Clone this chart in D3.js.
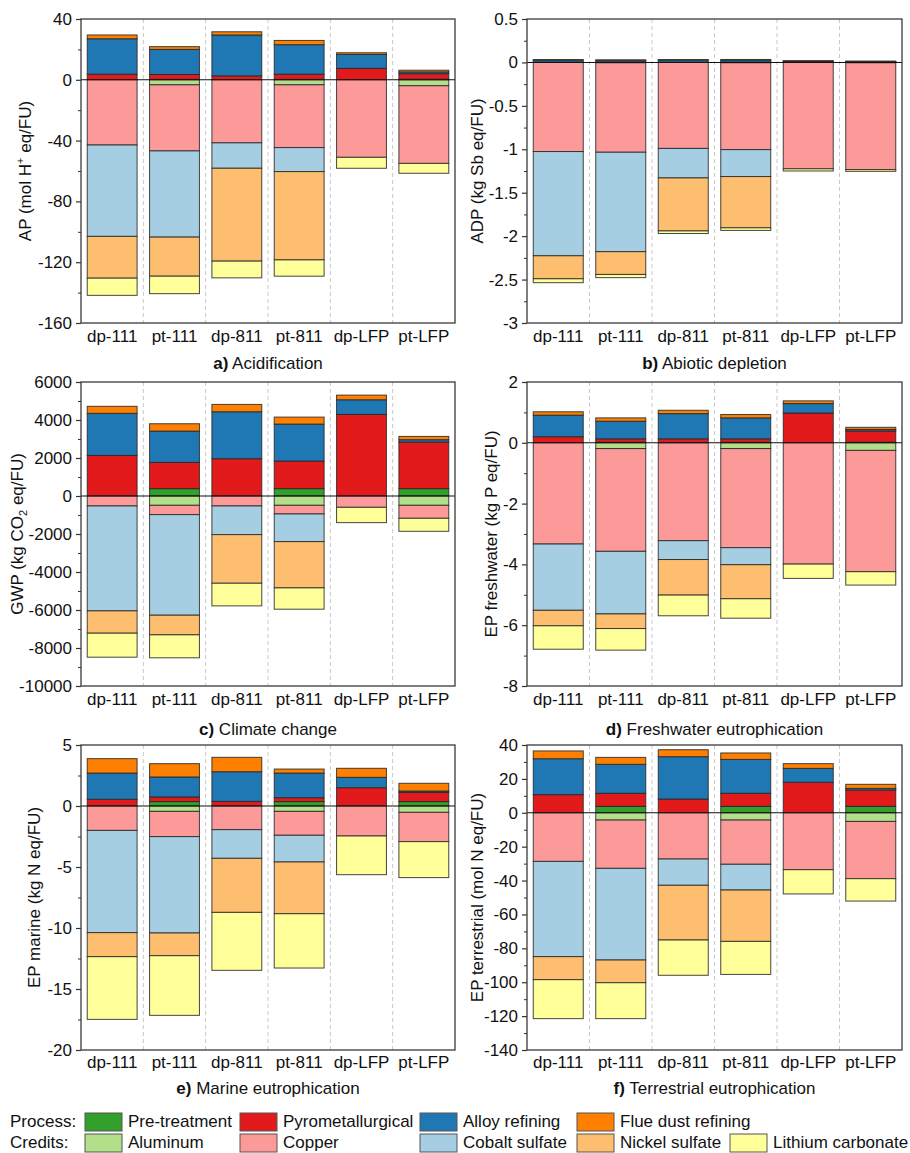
<!DOCTYPE html>
<html>
<head>
<meta charset="utf-8">
<script src="https://cdn.jsdelivr.net/npm/d3@7"></script>
<style>
  html, body { margin: 0; padding: 0; background: #fff; }
  svg { display: block; font-family: "Liberation Sans", Arial, sans-serif; }
</style>
</head>
<body>
<svg id="chart" width="910" height="1153"></svg>
<script>
// Recycling routes and stacked contributions
const categories = ["dp-111", "pt-111", "dp-811", "pt-811", "dp-LFP", "pt-LFP"];
const processNames = ["Pre-treatment", "Pyrometallurgical", "Alloy refining", "Flue dust refining"];
const creditNames = ["Aluminum", "Copper", "Cobalt sulfate", "Nickel sulfate", "Lithium carbonate"];
const processColors = ["#33a02c", "#e31a1c", "#1f78b4", "#ff7f00"];
const creditColors = ["#b2df8a", "#fb9a99", "#a6cee3", "#fdbf6f", "#ffff99"];

// a) Acidification (mol H+ eq/FU) — rows follow processNames / creditNames
const apProcess = [
  [0, 0.3, 0, 0.3, 0, 0.4],
  [3.7, 3.2, 2.6, 3.4, 7.5, 3.6],
  [23.3, 16.5, 26.9, 19.4, 9.2, 1.2],
  [2.5, 1.8, 2.1, 2.8, 1.1, 1.1]
];
const apCredit = [
  [0, -3.3, 0, -3.3, 0, -3.9],
  [-42.9, -43.5, -41.5, -41.3, -51.0, -51.1],
  [-60.1, -56.7, -16.7, -15.8, 0, 0],
  [-27.5, -25.7, -61.1, -58.1, 0, 0],
  [-11.3, -11.5, -11.0, -10.7, -7.2, -6.5]
];

// b) Abiotic depletion (kg Sb eq/FU)
const adpProcess = [
  [0, 0.002, 0, 0.002, 0, 0.002],
  [0.004, 0.004, 0.003, 0.003, 0.012, 0.008],
  [0.024, 0.018, 0.025, 0.024, 0.004, 0.002],
  [0.005, 0.006, 0.005, 0.005, 0.004, 0.003]
];
const adpCredit = [
  [0, -0.004, 0, -0.004, 0, -0.004],
  [-1.026, -1.03, -0.99, -1.0, -1.225, -1.23],
  [-1.2, -1.145, -0.34, -0.31, 0, 0],
  [-0.265, -0.262, -0.61, -0.59, 0, 0],
  [-0.045, -0.037, -0.03, -0.03, -0.025, -0.02]
];

// c) Climate change (kg CO2 eq/FU)
const gwpProcess = [
  [0, 386, 0, 386, 0, 386],
  [2140, 1384, 1963, 1454, 4294, 2453],
  [2210, 1647, 2471, 1945, 771, 123],
  [370, 386, 386, 368, 245, 175]
];
const gwpCredit = [
  [0, -490, 0, -490, 0, -490],
  [-526, -491, -526, -456, -596, -684],
  [-5520, -5293, -1507, -1455, 0, 0],
  [-1175, -1034, -2559, -2436, 0, 0],
  [-1262, -1209, -1191, -1121, -806, -684]
];

// d) Freshwater eutrophication (kg P eq/FU)
const fwProcess = [
  [0, 0.02, 0, 0.02, 0, 0.02],
  [0.2, 0.11, 0.13, 0.11, 0.98, 0.37],
  [0.71, 0.58, 0.83, 0.69, 0.31, 0.05],
  [0.11, 0.11, 0.11, 0.11, 0.09, 0.07]
];
const fwCredit = [
  [0, -0.19, 0, -0.19, 0, -0.25],
  [-3.33, -3.38, -3.22, -3.26, -3.99, -3.99],
  [-2.18, -2.06, -0.62, -0.56, 0, 0],
  [-0.51, -0.48, -1.17, -1.12, 0, 0],
  [-0.77, -0.71, -0.68, -0.64, -0.47, -0.44]
];

// e) Marine eutrophication (kg N eq/FU)
const marProcess = [
  [0, 0.36, 0, 0.36, 0, 0.36],
  [0.55, 0.38, 0.38, 0.32, 1.5, 0.76],
  [2.15, 1.64, 2.43, 2.02, 0.85, 0.11],
  [1.18, 1.09, 1.18, 0.33, 0.74, 0.63]
];
const marCredit = [
  [0, -0.44, 0, -0.44, 0, -0.52],
  [-2.0, -2.07, -1.94, -1.96, -2.46, -2.4],
  [-8.38, -7.9, -2.35, -2.19, 0, 0],
  [-1.97, -1.86, -4.43, -4.24, 0, 0],
  [-5.14, -4.89, -4.75, -4.45, -3.17, -2.95]
];

// f) Terrestrial eutrophication (mol N eq/FU)
const terProcess = [
  [0, 3.8, 0, 3.8, 0, 3.8],
  [10.7, 7.7, 8.1, 7.7, 18.0, 9.6],
  [21.2, 17.1, 25.0, 20.0, 8.2, 1.0],
  [4.6, 4.1, 4.1, 3.8, 2.8, 2.4]
];
const terCredit = [
  [0, -4.3, 0, -4.3, 0, -5.1],
  [-28.7, -28.5, -27.3, -26.1, -33.6, -33.8],
  [-56.2, -54.1, -15.5, -15.2, 0, 0],
  [-13.6, -13.4, -32.3, -30.3, 0, 0],
  [-23.0, -21.2, -20.8, -19.5, -14.3, -13.2]
];

// Panel layout
const cols = [{ x0: 81, x1: 455 }, { x0: 527, x1: 902 }];
const rows = [
  { y0: 19, y1: 323, cat: 342, title: 369 },
  { y0: 382, y1: 686, cat: 705, title: 735 },
  { y0: 745, y1: 1050, cat: 1068, title: 1094 }
];

const panels = [
  { col: 0, row: 0, letter: "a)", name: "Acidification", domain: [-160, 40], step: 40,
    yTitle: [["AP (mol H", ""], ["+", "sup"], [" eq/FU)", ""]], titleX: 31,
    process: apProcess, credit: apCredit },
  { col: 1, row: 0, letter: "b)", name: "Abiotic depletion", domain: [-3, 0.5], step: 0.5,
    yTitle: [["ADP (kg Sb eq/FU)", ""]], titleX: 483,
    process: adpProcess, credit: adpCredit },
  { col: 0, row: 1, letter: "c)", name: "Climate change", domain: [-10000, 6000], step: 2000,
    yTitle: [["GWP (kg CO", ""], ["2", "sub"], [" eq/FU)", ""]], titleX: 23,
    process: gwpProcess, credit: gwpCredit },
  { col: 1, row: 1, letter: "d)", name: "Freshwater eutrophication", domain: [-8, 2], step: 2,
    yTitle: [["EP freshwater (kg P eq/FU)", ""]], titleX: 497,
    process: fwProcess, credit: fwCredit },
  { col: 0, row: 2, letter: "e)", name: "Marine eutrophication", domain: [-20, 5], step: 5,
    yTitle: [["EP marine (kg N eq/FU)", ""]], titleX: 40,
    process: marProcess, credit: marCredit },
  { col: 1, row: 2, letter: "f)", name: "Terrestrial eutrophication", domain: [-140, 40], step: 20,
    yTitle: [["EP terrestrial (mol N eq/FU)", ""]], titleX: 483,
    process: terProcess, credit: terCredit }
];

const svg = d3.select("#chart");
const FONT = 17;
const seriesKeys = processNames.concat(creditNames);
const seriesColors = processColors.concat(creditColors);
const color = d3.scaleOrdinal(seriesKeys, seriesColors);

function drawPanel(p) {
  const c = cols[p.col], r = rows[p.row];
  const g = svg.append("g");

  const x = d3.scaleBand().domain(categories).range([c.x0, c.x1]).paddingInner(0.2).paddingOuter(0.1);
  const y = d3.scaleLinear().domain(p.domain).range([r.y1, r.y0]);

  // Build one row per category with all series values
  const table = categories.map((cat, i) => {
    const row = { category: cat };
    processNames.forEach((n, k) => row[n] = p.process[k][i]);
    creditNames.forEach((n, k) => row[n] = p.credit[k][i]);
    return row;
  });
  const stacked = d3.stack().keys(seriesKeys).offset(d3.stackOffsetDiverging)(table);

  // Dashed separators between categories
  const band = (c.x1 - c.x0) / categories.length;
  g.selectAll("line.sep").data(d3.range(1, categories.length)).join("line")
    .attr("x1", i => c.x0 + i * band).attr("x2", i => c.x0 + i * band)
    .attr("y1", r.y0).attr("y2", r.y1)
    .attr("stroke", "#c8c8c8").attr("stroke-width", 1).attr("stroke-dasharray", "4,3");

  // Stacked bars
  g.selectAll("g.series").data(stacked).join("g")
    .attr("fill", s => color(s.key))
    .selectAll("rect")
    .data(s => s.filter(d => d[0] !== d[1]))
    .join("rect")
    .attr("x", d => x(d.data.category))
    .attr("width", x.bandwidth())
    .attr("y", d => y(Math.max(d[0], d[1])))
    .attr("height", d => Math.abs(y(d[0]) - y(d[1])))
    .attr("stroke", "#262626").attr("stroke-width", 1).attr("stroke-opacity", 0.85);

  // Zero line
  g.append("line")
    .attr("x1", c.x0).attr("x2", c.x1).attr("y1", y(0)).attr("y2", y(0))
    .attr("stroke", "#111").attr("stroke-width", 1.1);

  // Frame
  g.append("rect")
    .attr("x", c.x0).attr("y", r.y0).attr("width", c.x1 - c.x0).attr("height", r.y1 - r.y0)
    .attr("fill", "none").attr("stroke", "#3a3a3a").attr("stroke-width", 1.3);

  // Y axis with major and minor ticks
  const majors = d3.range(p.domain[0], p.domain[1] + p.step / 2, p.step).map(v => +v.toFixed(6));
  const minors = d3.range(p.domain[0] + p.step / 2, p.domain[1], p.step).map(v => +v.toFixed(6));
  const yAxis = d3.axisLeft(y).tickValues(majors).tickSize(5).tickPadding(4)
    .tickFormat(v => String(v));
  const ax = g.append("g").attr("transform", `translate(${c.x0},0)`).call(yAxis);
  ax.select(".domain").remove();
  ax.selectAll(".tick line").attr("stroke", "#333").attr("stroke-width", 1.2);
  ax.selectAll(".tick text").attr("font-size", FONT).attr("fill", "#111")
    .attr("font-family", "Liberation Sans, Arial, sans-serif");
  const minorAxis = d3.axisLeft(y).tickValues(minors).tickSize(3).tickFormat("");
  const mx = g.append("g").attr("transform", `translate(${c.x0},0)`).call(minorAxis);
  mx.select(".domain").remove();
  mx.selectAll(".tick line").attr("stroke", "#333").attr("stroke-width", 1);

  // Category labels
  g.selectAll("text.cat").data(categories).join("text")
    .attr("x", d => x(d) + x.bandwidth() / 2).attr("y", r.cat)
    .attr("text-anchor", "middle").attr("font-size", FONT).attr("fill", "#111")
    .text(d => d);

  // Y axis title
  const yt = g.append("text")
    .attr("transform", `translate(${p.titleX},${(r.y0 + r.y1) / 2}) rotate(-90)`)
    .attr("text-anchor", "middle").attr("font-size", FONT).attr("fill", "#111");
  p.yTitle.forEach(([txt, kind]) => {
    const t = yt.append("tspan").text(txt);
    if (kind === "sup") t.attr("font-size", 11).attr("dy", -7);
    if (kind === "sub") t.attr("font-size", 11).attr("dy", 4);
    if (kind === "" && yt.selectAll("tspan").size() > 1) {
      const prev = p.yTitle[yt.selectAll("tspan").size() - 2][1];
      if (prev === "sup") t.attr("dy", 7);
      if (prev === "sub") t.attr("dy", -4);
    }
  });

  // Panel title
  const tt = g.append("text")
    .attr("x", (c.x0 + c.x1) / 2).attr("y", r.title)
    .attr("text-anchor", "middle").attr("font-size", FONT).attr("fill", "#111");
  tt.append("tspan").attr("font-weight", "bold").text(p.letter);
  tt.append("tspan").text(" " + p.name);
}

panels.forEach(drawPanel);

// Legend
const legendRows = [
  { label: "Process:", names: processNames, colors: processColors, y: 1113 },
  { label: "Credits:", names: creditNames, colors: creditColors, y: 1134 }
];
const boxX = [85, 240, 420, 577, 730];
const lg = svg.append("g");
legendRows.forEach(row => {
  lg.append("text").attr("x", 10).attr("y", row.y + 14).attr("font-size", FONT).attr("fill", "#111").text(row.label);
  row.names.forEach((n, i) => {
    const bx = boxX[i];
    lg.append("rect").attr("x", bx).attr("y", row.y).attr("width", 37).attr("height", 18)
      .attr("fill", row.colors[i]).attr("stroke", "#555").attr("stroke-width", 1);
    lg.append("text").attr("x", bx + 43).attr("y", row.y + 14).attr("font-size", FONT)
      .attr("fill", "#111").text(n);
  });
});
</script>
</body>
</html>
